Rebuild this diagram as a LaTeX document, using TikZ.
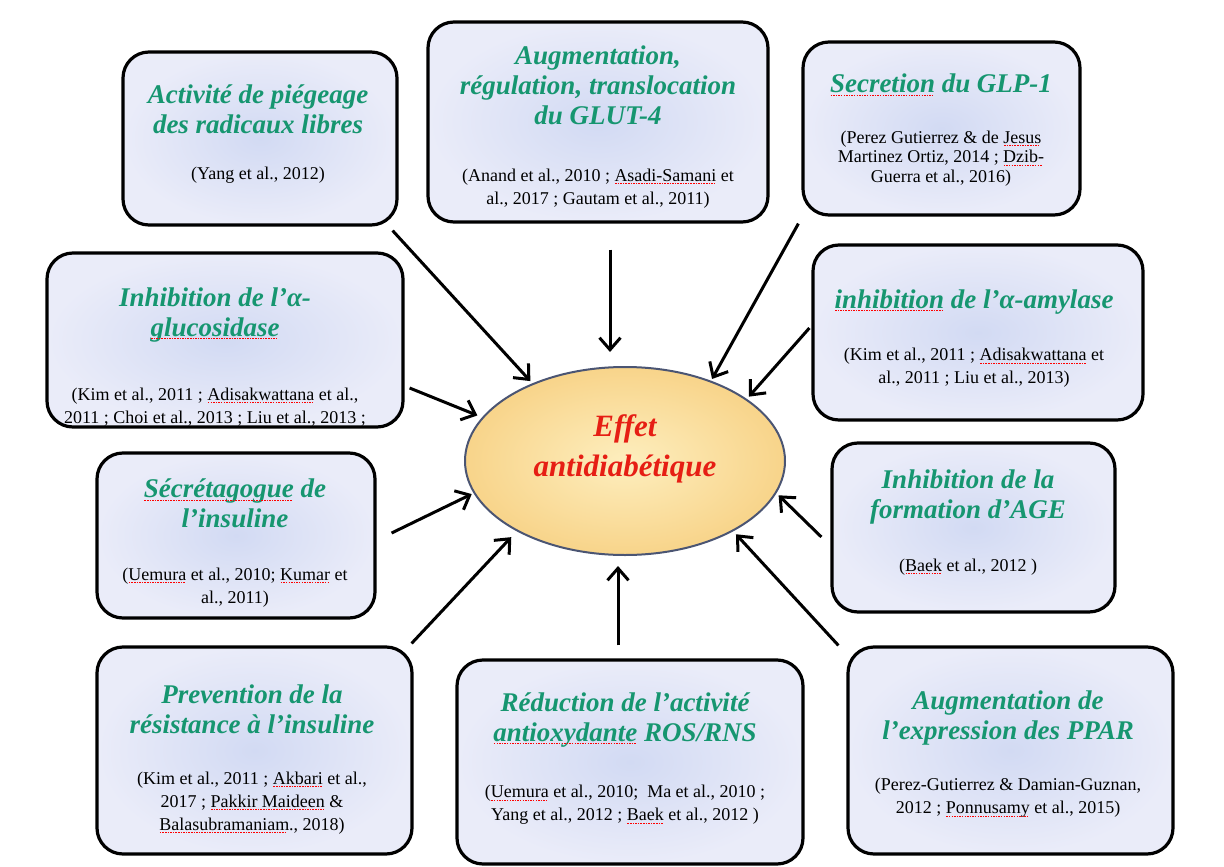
\documentclass[tikz,border=0pt]{standalone}
\usepackage{fontspec}
\setmainfont{Liberation Serif}
\usetikzlibrary{arrows.meta,shapes.geometric}
\definecolor{ttlc}{RGB}{22,150,112}
\definecolor{effc}{RGB}{230,30,20}
\definecolor{boxin}{RGB}{210,218,243}
\definecolor{boxout}{RGB}{234,236,249}
\definecolor{elin}{RGB}{253,238,190}
\definecolor{elout}{RGB}{248,212,138}
\definecolor{elline}{RGB}{75,85,115}
\newsavebox\sqbox
\newcommand\sqw[1]{\sbox\sqbox{#1}\leavevmode\rlap{\usebox\sqbox}\raisebox{-3pt}{\color{red}\leaders\hbox to 2.6pt{\hss\rule{1.5pt}{1pt}\hss}\hskip\wd\sqbox}}
\begin{document}
\begin{tikzpicture}[x=1pt,y=-1pt,
  box/.style={draw=black, line width=3.2pt, rounded corners=26pt, inner color=boxin, outer color=boxout, inner sep=0pt},
  ttl/.style={font=\fontsize{27}{30}\selectfont\bfseries\itshape, text=ttlc, align=center, inner sep=0pt},
  cit/.style={font=\fontsize{18}{23}\selectfont, align=center, inner sep=0pt},
  arr/.style={line width=3pt, -{Straight Barb[length=12pt,width=21pt]}}]
\useasboundingbox (0,0) rectangle (1224,867);
\fill[white] (0,0) rectangle (1224,867);
% boxes
\node[box, minimum width=274pt, minimum height=173pt] (b1) at (260,138.5) {};
\node[box, minimum width=340pt, minimum height=200pt] (b2) at (598,122) {};
\node[box, minimum width=277pt, minimum height=173pt] (b3) at (941.5,128.5) {};
\node[box, minimum width=356pt, minimum height=174pt] (b4) at (225,340) {};
\node[box, minimum width=330pt, minimum height=175pt] (b5) at (978,332.5) {};
\node[box, minimum width=278pt, minimum height=165pt] (b6) at (236,535.5) {};
\node[box, minimum width=283pt, minimum height=169pt] (b7) at (973.5,527.5) {};
\node[box, minimum width=315pt, minimum height=207pt] (b8) at (254.5,750.5) {};
\node[box, minimum width=346pt, minimum height=204pt] (b9) at (630,762) {};
\node[box, minimum width=325pt, minimum height=207pt] (b10) at (1010.5,750.5) {};
% centre
\node[ellipse, draw=elline, line width=2pt, inner color=elin, outer color=elout, minimum width=320pt, minimum height=188pt, inner sep=0pt] (ell) at (625,461) {};
\node[font=\fontsize{31}{40}\selectfont\bfseries\itshape, text=effc, align=center, inner sep=0pt] (effet) at (625,449) {Effet\\antidiabétique};
% texts
\node[ttl] (t1) at (258,109) {Activité de piégeage\\des radicaux libres};
\node[cit] (c1) at (258,175) {(Yang et al., 2012)};
\node[ttl] (t2) at (598,85) {Augmentation,\\régulation, translocation\\du GLUT-4};
\node[cit] (c2) at (598,188.5) {(Anand et al., 2010 ; \sqw{Asadi-Samani} et\\al., 2017 ; Gautam et al., 2011)};
\node[ttl] (t3) at (941,85) {\sqw{Secretion} du GLP-1};
\node[cit, font=\fontsize{18}{19.5}\selectfont] (c3) at (941,158.5) {(Perez Gutierrez \& de \sqw{Jesus}\\Martinez Ortiz, 2014 ; \sqw{Dzib-}\\Guerra et al., 2016)};
\node[ttl] (t4) at (215,315) {Inhibition de l'α-\\\sqw{glucosidase}};
\node[cit] (c4) at (215,407) {(Kim et al., 2011 ; \sqw{Adisakwattana} et al.,\\2011 ; Choi et al., 2013 ; Liu et al., 2013 ;};
\node[ttl] (t5) at (974,302) {\sqw{inhibition} de l'α-amylase};
\node[cit] (c5) at (974,368) {(Kim et al., 2011 ; \sqw{Adisakwattana} et\\al., 2011 ; Liu et al., 2013)};
\node[ttl] (t6) at (235,503.5) {\sqw{Sécrétagogue} de\\l'insuline};
\node[cit] (c6) at (235,587.5) {(\sqw{Uemura} et al., 2010; \sqw{Kumar} et\\al., 2011)};
\node[ttl] (t7) at (968,497.5) {Inhibition de la\\formation d'AGE};
\node[cit] (c7) at (968,567) {(\sqw{Baek} et al., 2012 )};
\node[ttl] (t8) at (252,709) {Prevention de la\\résistance à l'insuline};
\node[cit] (c8) at (252,803) {(Kim et al., 2011 ; \sqw{Akbari} et al.,\\2017 ; \sqw{Pakkir Maideen} \&\\\sqw{Balasubramaniam}., 2018)};
\node[ttl] (t9) at (625,720) {Réduction de l'activité\\\sqw{antioxydante} ROS/RNS};
\node[cit] (c9) at (625,805) {(\sqw{Uemura} et al., 2010;~ Ma et al., 2010 ;\\Yang et al., 2012 ; \sqw{Baek} et al., 2012 )};
\node[ttl] (t10) at (1008,717.5) {Augmentation de\\l'expression des PPAR};
\node[cit] (c10) at (1008,798) {(Perez-Gutierrez \& Damian-Guznan,\\2012 ; \sqw{Ponnusamy} et al., 2015)};
% arrows
\draw[arr, shorten >=3pt] ([xshift=-6pt,yshift=-4pt]b1.south east) -- (ell.140);
\draw[arr] ([xshift=12pt,yshift=-26pt]b2.south) -- ([xshift=-15pt,yshift=14pt]ell.north);
\draw[arr, shorten >=2pt] ([xshift=-3pt,yshift=-7pt]b3.south west) -- (ell.43);
\draw[arr, shorten >=3pt] ([xshift=-2pt,yshift=4.5pt]b5.west) -- (ell.27);
\draw[arr, shorten >=5pt] ([xshift=5pt,yshift=-48pt]b4.east) -- (ell.163);
\draw[arr, shorten >=2pt] ([xshift=15pt,yshift=2.5pt]b6.east) -- (ell.192);
\draw[arr, shorten >=8pt] ([xshift=-2pt,yshift=2pt]b8.north east) -- (ell.213);
\draw[arr] ([xshift=-12pt,yshift=13pt]b9.north) -- ([xshift=-7pt,yshift=-10pt]ell.south);
\draw[arr, shorten >=4pt] ([xshift=-8pt]b10.north west) -- (ell.-33);
\draw[arr, shorten >=3pt] ([xshift=-9pt,yshift=-9.5pt]b7.west) -- (ell.-12);
\end{tikzpicture}
\end{document}
